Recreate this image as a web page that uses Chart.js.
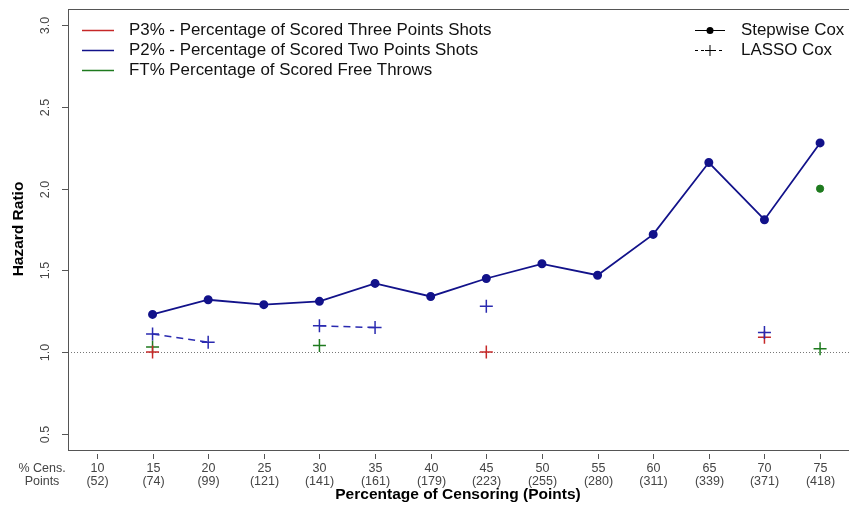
<!DOCTYPE html>
<html>
<head>
<meta charset="utf-8">
<script src="https://cdn.jsdelivr.net/npm/chart.js@4"></script>
<style>
  body { margin: 0; background: #fff; }
  #wrap { width: 849px; height: 509px; }
</style>
</head>
<body>
<div id="wrap"><canvas id="hrChart" width="849" height="509"></canvas></div>
<script>
// porcentajes de censura y puntos
const censPct = [10, 15, 20, 25, 30, 35, 40, 45, 50, 55, 60, 65, 70, 75];
const censPoints = [52, 74, 99, 121, 141, 161, 179, 223, 255, 280, 311, 339, 371, 418];
const yTicks = [0.5, 1.0, 1.5, 2.0, 2.5, 3.0];

// Stepwise Cox
const stepP2 = [null, 1.23, 1.32, 1.29, 1.31, 1.42, 1.34, 1.45, 1.54, 1.47, 1.72, 2.16, 1.81, 2.28];
const stepFT = [null, null, null, null, null, null, null, null, null, null, null, null, null, 2.00];
// LASSO Cox
const lassoP2 = [null, 1.11, 1.06, null, 1.16, 1.15, null, 1.28, null, null, null, null, 1.12, null];
const lassoP3 = [null, 1.00, null, null, null, null, null, 1.00, null, null, null, null, 1.09, null];
const lassoFT = [null, 1.03, null, null, 1.04, null, null, null, null, null, null, null, null, 1.02];

const RED = '#c62828', BLUE = '#12128a', GREEN = '#1e7a1e';

function pts(vals) {
    return censPct.map((x, i) => ({ x: x, y: vals[i] }));
}

const canvas = document.getElementById('hrChart');
const ctx = canvas.getContext('2d');

// dibuja ejes, caja y leyendas al estilo R
const rPlot = {
    id: 'rPlot',
    beforeDatasetsDraw(chart) {
        const c = chart.ctx, a = chart.chartArea;
        const ys = chart.scales.y;
        c.save();
        c.strokeStyle = '#777';
        c.lineWidth = 1;
        c.setLineDash([1, 2]);
        c.beginPath();
        c.moveTo(a.left, Math.round(ys.getPixelForValue(1)) + 0.5);
        c.lineTo(a.right, Math.round(ys.getPixelForValue(1)) + 0.5);
        c.stroke();
        c.restore();
    },
    afterDraw(chart) {
        const c = chart.ctx, a = chart.chartArea;
        const xs = chart.scales.x, ys = chart.scales.y;
        c.save();
        // caja
        c.strokeStyle = '#555';
        c.lineWidth = 1;
        c.strokeRect(a.left + 0.5, a.top + 0.5, a.right - a.left, a.bottom - a.top);

        // eje y
        c.fillStyle = '#444';
        c.font = '12.5px "Liberation Sans", Arial, sans-serif';
        yTicks.forEach(v => {
            const py = Math.round(ys.getPixelForValue(v)) + 0.5;
            c.beginPath();
            c.moveTo(a.left - 6, py);
            c.lineTo(a.left, py);
            c.stroke();
            c.save();
            c.translate(a.left - 22, py);
            c.rotate(-Math.PI / 2);
            c.textAlign = 'center';
            c.textBaseline = 'middle';
            c.fillText(v.toFixed(1), 0, 0);
            c.restore();
        });

        // eje x
        c.textAlign = 'center';
        c.textBaseline = 'middle';
        censPct.forEach((v, i) => {
            const px = Math.round(xs.getPixelForValue(v)) + 0.5;
            c.beginPath();
            c.moveTo(px, a.bottom + 4);
            c.lineTo(px, a.bottom + 9);
            c.stroke();
            c.fillText(String(v), px, a.bottom + 19);
            c.fillText('(' + censPoints[i] + ')', px, a.bottom + 32);
        });
        c.fillText('% Cens.', 42, a.bottom + 19);
        c.fillText('Points', 42, a.bottom + 32);

        // titulos
        c.fillStyle = '#000';
        c.font = 'bold 15.5px "Liberation Sans", Arial, sans-serif';
        c.fillText('Percentage of Censoring (Points)', 458, 495);
        c.save();
        c.translate(19, 229);
        c.rotate(-Math.PI / 2);
        c.fillText('Hazard Ratio', 0, 0);
        c.restore();

        // leyenda variables
        c.font = '16.9px "Liberation Sans", Arial, sans-serif';
        c.textAlign = 'left';
        c.fillStyle = '#111';
        const vars = [
            ['P3% - Percentage of Scored Three Points Shots', RED],
            ['P2% - Percentage of Scored Two Points Shots', BLUE],
            ['FT% Percentage of Scored Free Throws', GREEN]
        ];
        vars.forEach((it, i) => {
            const ly = 30 + i * 20;
            c.strokeStyle = it[1];
            c.lineWidth = 1.5;
            c.beginPath();
            c.moveTo(82, ly + 0.5);
            c.lineTo(114, ly + 0.5);
            c.stroke();
            c.fillText(it[0], 129, ly);
        });

        // leyenda metodos
        c.strokeStyle = '#000';
        c.lineWidth = 1;
        c.beginPath();
        c.moveTo(695, 30.5);
        c.lineTo(725, 30.5);
        c.stroke();
        c.beginPath();
        c.arc(710, 30.5, 3.5, 0, Math.PI * 2);
        c.fillStyle = '#000';
        c.fill();
        c.setLineDash([3, 3]);
        c.beginPath();
        c.moveTo(695, 50.5);
        c.lineTo(725, 50.5);
        c.stroke();
        c.setLineDash([]);
        c.beginPath();
        c.moveTo(710, 45);
        c.lineTo(710, 56);
        c.moveTo(705, 50.5);
        c.lineTo(715, 50.5);
        c.stroke();
        c.fillStyle = '#111';
        c.fillText('Stepwise Cox', 741, 30);
        c.fillText('LASSO Cox', 741, 50);
        c.restore();
    }
};

function lassoSet(vals, color) {
    return {
        data: pts(vals),
        borderColor: color,
        backgroundColor: color,
        borderWidth: 1.5,
        borderDash: [7, 5],
        pointStyle: 'cross',
        pointRadius: 6.5,
        pointBorderWidth: 1.5,
        spanGaps: false,
        tension: 0
    };
}

new Chart(ctx, {
    type: 'line',
    data: {
        datasets: [
            {
                data: pts(stepP2),
                borderColor: BLUE,
                backgroundColor: BLUE,
                borderWidth: 1.8,
                pointStyle: 'circle',
                pointRadius: 3.6,
                spanGaps: false,
                tension: 0
            },
            {
                data: pts(stepFT),
                borderColor: GREEN,
                backgroundColor: GREEN,
                pointRadius: 3.6,
                showLine: false
            },
            lassoSet(lassoP2, '#2a2ab0'),
            lassoSet(lassoP3, RED),
            lassoSet(lassoFT, GREEN)
        ]
    },
    options: {
        responsive: false,
        animation: false,
        layout: { autoPadding: false, padding: { left: 68, top: 9, right: 0, bottom: 59 } },
        scales: {
            x: { type: 'linear', min: 7.4, max: 77.6, display: false },
            y: { min: 0.4, max: 3.1, display: false }
        },
        plugins: {
            legend: { display: false },
            tooltip: { enabled: false }
        }
    },
    plugins: [rPlot]
});
</script>
</body>
</html>
